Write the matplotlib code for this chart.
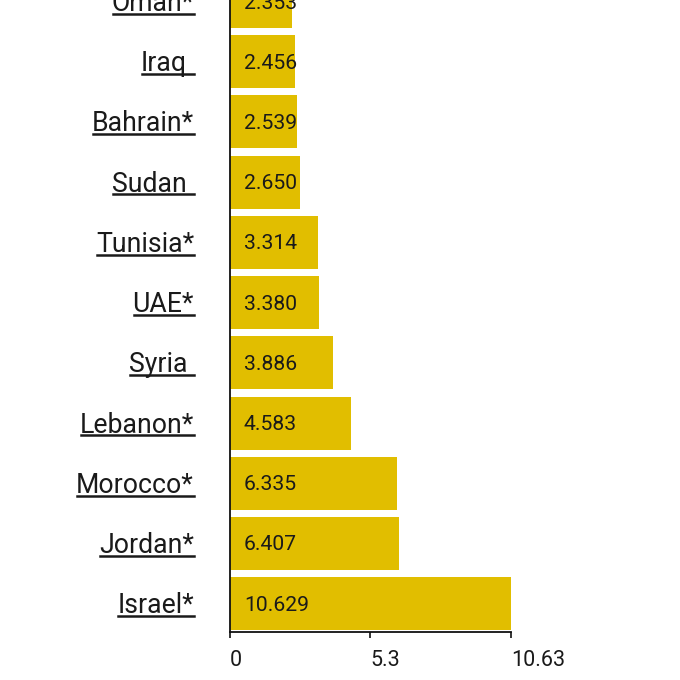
import matplotlib
matplotlib.use("Agg")
import matplotlib.pyplot as plt
import matplotlib.transforms as mtransforms
from matplotlib.lines import Line2D

plt.rcParams['font.family'] = ['Roboto', 'DejaVu Sans']

countries = ["Israel*", "Jordan*", "Morocco*", "Lebanon*", "Syria ", "UAE*",
             "Tunisia*", "Sudan ", "Bahrain*", "Iraq ", "Oman*"]
values = [10.629, 6.407, 6.335, 4.583, 3.886, 3.380, 3.314, 2.650, 2.539, 2.456, 2.353]
value_labels = ["10.629", "6.407", "6.335", "4.583", "3.886", "3.380", "3.314",
                "2.650", "2.539", "2.456", "2.353"]
xticks = [0, 5.3, 10.63]
xtick_labels = ["0", "5.3", "10.63"]

W = H = 680
fig = plt.figure(figsize=(6.8, 6.8), dpi=100)
ax = fig.add_axes([230 / W, 1 - 632 / H, 281 / W, 660 / H])

ypos = list(range(len(countries)))
ax.barh(ypos, values, height=0.88, color="#E1BE00", zorder=2)
ax.set_xlim(0, 10.63)
ax.set_ylim(-0.47, 10.49)

for s in ["top", "right"]:
    ax.spines[s].set_visible(False)
for s in ["left", "bottom"]:
    ax.spines[s].set_linewidth(1.3)
    ax.spines[s].set_color("#111111")

ax.set_yticks([])
ax.set_xticks(xticks)
ax.set_xticklabels(xtick_labels, fontsize=15.5, color="#1a1a1a")
for lbl in ax.get_xticklabels():
    lbl.set_ha("left")
ax.tick_params(axis="x", length=4, width=1.2, color="#111111", pad=9)

# value labels inside bars
vtrans = mtransforms.offset_copy(ax.transData, fig=fig, x=14, y=-7, units="dots")
for y, lab in zip(ypos, value_labels):
    ax.text(0, y, lab, transform=vtrans, ha="left", va="baseline",
            fontsize=15.2, color="#1a1a1a", zorder=3)

# country labels, underlined
blend = mtransforms.blended_transform_factory(ax.transAxes, ax.transData)
right_px = 194
space_px = 7
texts = []
for y, name in zip(ypos, countries):
    trailing = name.endswith(" ")
    shift = -(230 - right_px) - (space_px if trailing else 0)
    tr = mtransforms.offset_copy(blend, fig=fig, x=shift, y=-9.5, units="dots")
    t = ax.text(0, y, name.rstrip(), transform=tr, ha="right", va="baseline",
                fontsize=19.2, color="#1a1a1a", clip_on=False)
    texts.append(t)

fig.canvas.draw()
renderer = fig.canvas.get_renderer()
inv = fig.transFigure.inverted()
for y, t in zip(ypos, texts):
    bb = t.get_window_extent(renderer)
    base = ax.transData.transform((0, y))[1] - 9.5
    uy = base - 2.8
    x0 = bb.x0 + 1
    x1 = right_px
    (fx0, fy), (fx1, _) = inv.transform([(x0, uy), (x1, uy)])
    fig.add_artist(Line2D([fx0, fx1], [fy, fy], transform=fig.transFigure,
                          color="#1a1a1a", linewidth=1.8))

fig.savefig("out.png", dpi=100)
